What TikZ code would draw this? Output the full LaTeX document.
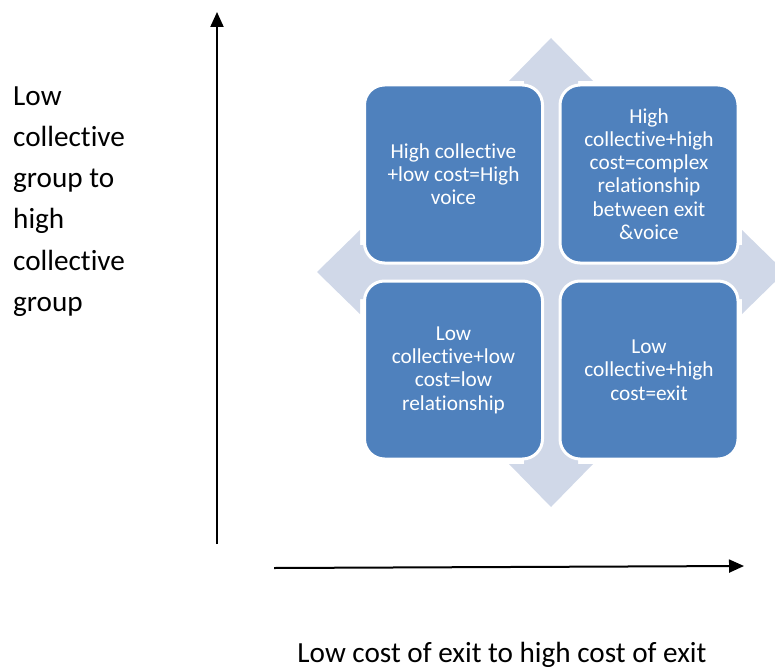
\documentclass[tikz,border=0pt]{standalone}
\usepackage{fontspec}
\setmainfont{Carlito}[Ligatures={NoCommon}]
\usetikzlibrary{arrows.meta}
\definecolor{boxblue}{HTML}{4F81BD}
\definecolor{crossgray}{HTML}{D0D8E8}
\tikzset{
  quad/.style={draw=white, line width=3pt, fill=boxblue, rounded corners=20pt,
    minimum width=178pt, minimum height=178pt, inner sep=0pt, text=white,
    align=center, font=\fontsize{21.3}{23.3}\selectfont},
  axis/.style={line width=2pt, -{Triangle[length=15pt,width=13pt]}},
  label/.style={inner sep=0pt, font=\fontsize{29.2}{41}\selectfont}
}
\begin{document}
\begin{tikzpicture}[x=1pt,y=-1pt]
\useasboundingbox (0,0) rectangle (775,668);
\clip (0,0) rectangle (775,668);
% four-way arrow
\fill[crossgray] (551,38) -- (593,81) -- (578,81) -- (578,245) -- (742,245) -- (742,230)
  -- (785,272) -- (742,314) -- (742,299) -- (578,299) -- (578,464) -- (593,464)
  -- (551,507) -- (509,464) -- (524,464) -- (524,299) -- (360,299) -- (360,314)
  -- (317,272) -- (360,230) -- (360,245) -- (524,245) -- (524,81) -- (509,81) -- cycle;
\node[quad] (tl) at (453.5,174) {High collective\\+low cost=High\\voice};
\node[quad] (tr) at (649,174) {High\\collective+high\\cost=complex\\relationship\\between exit\\\&voice};
\node[quad] (bl) at (453.5,370) {Low\\collective+low\\cost=low\\relationship};
\node[quad] (br) at (649,370) {Low\\collective+high\\cost=exit};
% axes
\coordinate (vstart) at (217,544);
\coordinate (vend) at (217,12);
\coordinate (hstart) at (274,568);
\coordinate (hend) at (744,566);
\draw[axis] (vstart) -- (vend);
\draw[axis] (hstart) -- (hend);
\node[label, anchor=base west] (ylab) at (13,106) {Low};
\node[label, anchor=base west] (ylab2) at (13,147) {collective};
\node[label, anchor=base west] (ylab3) at (13,188) {group to};
\node[label, anchor=base west] (ylab4) at (13,229) {high};
\node[label, anchor=base west] (ylab5) at (13,270) {collective};
\node[label, anchor=base west] (ylab6) at (13,311) {group};
\node[label, anchor=base] (xlab) at (502,662) {Low cost of exit to high cost of exit};
\end{tikzpicture}
\end{document}
